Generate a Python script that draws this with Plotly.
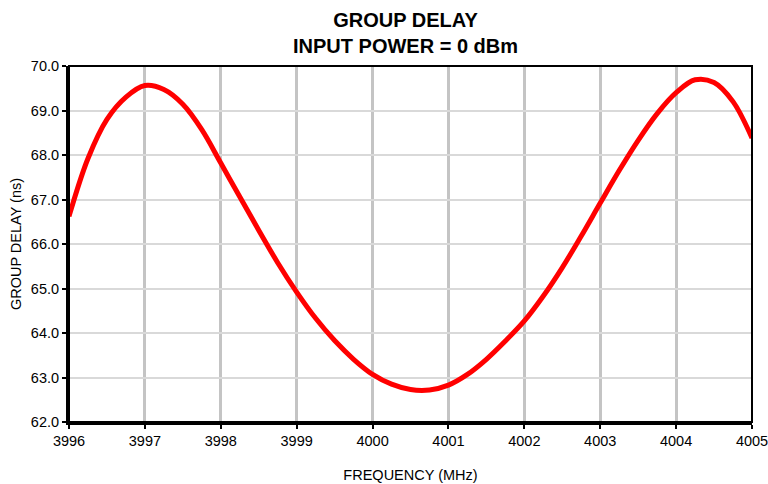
import plotly.graph_objects as go

freq_mhz = [3996.0, 3996.25, 3996.5, 3996.75, 3997.0, 3997.25, 3997.5, 3997.75,
            3998.0, 3998.25, 3998.5, 3998.75, 3999.0, 3999.25, 3999.5, 3999.75,
            4000.0, 4000.25, 4000.5, 4000.75, 4001.0, 4001.25, 4001.5, 4001.75,
            4002.0, 4002.25, 4002.5, 4002.75, 4003.0, 4003.25, 4003.5, 4003.75,
            4004.0, 4004.25, 4004.5, 4004.75, 4005.0]
delay_ns = [66.62, 67.92, 68.8, 69.3, 69.56, 69.47, 69.14, 68.57,
            67.82, 67.06, 66.31, 65.58, 64.92, 64.33, 63.83, 63.41,
            63.07, 62.85, 62.73, 62.72, 62.83, 63.07, 63.41, 63.82,
            64.27, 64.83, 65.47, 66.18, 66.92, 67.65, 68.33, 68.93,
            69.4, 69.69, 69.63, 69.2, 68.38]

x_ticks = [3996, 3997, 3998, 3999, 4000, 4001, 4002, 4003, 4004, 4005]
y_ticks = [62, 63, 64, 65, 66, 67, 68, 69, 70]

font = "Liberation Sans, Arial, sans-serif"

fig = go.Figure()
fig.add_trace(go.Scatter(x=freq_mhz, y=delay_ns, mode="lines",
                         line=dict(color="#ff0000", width=5, shape="spline", smoothing=1.0),
                         hoverinfo="skip", showlegend=False, cliponaxis=True))

fig.update_layout(
    width=768, height=484,
    margin=dict(l=69, r=16, t=66, b=62, autoexpand=False),
    paper_bgcolor="white", plot_bgcolor="white",
    font=dict(family=font, size=14.5, color="black"),
    annotations=[dict(text="<b>GROUP DELAY<br>INPUT POWER = 0 dBm</b>",
                      xref="paper", yref="paper", x=0.493, y=1.094,
                      xanchor="center", yanchor="middle", showarrow=False,
                      font=dict(family=font, size=20, color="black"))],
    xaxis=dict(range=[3996, 4005], tickvals=x_ticks, ticktext=[str(v) for v in x_ticks],
               showgrid=True, gridcolor="#c4c4c4", gridwidth=3,
               showline=True, linecolor="black", linewidth=3,
               ticks="outside", ticklen=4, tickwidth=2, tickcolor="black",
               zeroline=False, automargin=False, ticklabeloverflow="allow",
               title=dict(text="FREQUENCY (MHz)", standoff=22, font=dict(size=14.5))),
    yaxis=dict(range=[62, 70], tickvals=y_ticks, ticktext=[f"{v:.1f}" for v in y_ticks],
               showgrid=True, gridcolor="#d9d9d9", gridwidth=1.5,
               showline=True, linecolor="black", linewidth=3,
               ticks="outside", ticklen=4, tickwidth=2, tickcolor="black",
               zeroline=False, automargin=False, ticklabeloverflow="allow",
               title=dict(text="GROUP DELAY (ns)", standoff=6, font=dict(size=14.5))),
    shapes=[dict(type="rect", xref="paper", yref="paper", x0=0, x1=1, y0=0, y1=1,
                 line=dict(color="black", width=2), layer="above")],
)

fig.write_html("out.html")
